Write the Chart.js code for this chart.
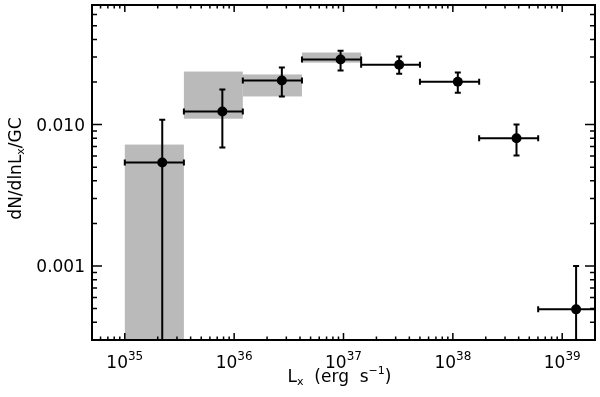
<!DOCTYPE html>
<html lang="en">
  <head>
    <meta charset="UTF-8" />
    <title>GC X-ray luminosity function</title>
    <script src="https://cdn.jsdelivr.net/npm/chart.js"></script>
    <style>
      html, body { margin: 0; padding: 0; background: #fff; }
      #wrap { width: 600px; height: 397px; }
    </style>
  </head>
  <body>
    <div id="wrap"><canvas id="chartCanvas"></canvas></div>

    <script>
      // luminosity of each bin (erg/s) and dN/dlnLx/GC
      const lx = [2.2e35, 7.8e35, 2.73e36, 9.4e36, 3.23e37, 1.11e38, 3.82e38, 1.34e39];
      const dn = [0.0054, 0.01236, 0.0205, 0.0288, 0.0265, 0.0201, 0.008, 0.000494];
      const dnHi = [0.0108, 0.0177, 0.0253, 0.0333, 0.0303, 0.0233, 0.01, 0.001];
      const dnLo = [0.0001, 0.00687, 0.0158, 0.0241, 0.0229, 0.0168, 0.00604, 0.0001];
      // bin edges
      const binLo = [1.0e35, 3.47e35, 1.2e36, 4.17e36, 1.45e37, 5.0e37, 1.74e38, 6.03e38];
      const binHi = [3.47e35, 1.2e36, 4.17e36, 1.45e37, 5.0e37, 1.74e38, 6.03e38, 2.09e39];
      // grey boxes (first four bins)
      const boxLo = [0.0001, 0.011, 0.0158, 0.0274];
      const boxHi = [0.00722, 0.0237, 0.0226, 0.0323];

      const xMajor = [1e35, 1e36, 1e37, 1e38, 1e39];
      const xTickExp = ["35", "36", "37", "38", "39"];
      const yMajor = [0.001, 0.01];
      const yTickLabels = ["0.001", "0.010"];

      const FONT = "'DejaVu Sans', sans-serif";

      function minorTicks(lo, hi, firstDecade, lastDecade) {
        const out = [];
        for (let d = firstDecade; d <= lastDecade; d++) {
          for (let k = 2; k <= 9; k++) {
            const v = k * Math.pow(10, d);
            if (v > lo && v < hi) out.push(v);
          }
        }
        return out;
      }

      const errorBoxes = {
        id: "errorBoxes",
        beforeDatasetsDraw(chart) {
          const { ctx, chartArea: a, scales: { x, y } } = chart;
          ctx.save();
          ctx.beginPath();
          ctx.rect(a.left, a.top, a.right - a.left, a.bottom - a.top);
          ctx.clip();

          ctx.fillStyle = "#bababa";
          for (let i = 0; i < boxLo.length; i++) {
            const x0 = x.getPixelForValue(binLo[i]);
            const x1 = x.getPixelForValue(binHi[i]);
            const y0 = y.getPixelForValue(boxHi[i]);
            const y1 = y.getPixelForValue(boxLo[i]);
            ctx.fillRect(x0, y0, x1 - x0, y1 - y0);
          }

          ctx.strokeStyle = "#000";
          ctx.lineWidth = 2;
          const c = 3;
          for (let i = 0; i < lx.length; i++) {
            const cx = x.getPixelForValue(lx[i]);
            const cy = y.getPixelForValue(dn[i]);
            const xl = x.getPixelForValue(binLo[i]);
            const xr = x.getPixelForValue(binHi[i]);
            const yt = y.getPixelForValue(dnHi[i]);
            const yb = y.getPixelForValue(dnLo[i]);
            ctx.beginPath();
            ctx.moveTo(xl, cy); ctx.lineTo(xr, cy);
            ctx.moveTo(xl, cy - c); ctx.lineTo(xl, cy + c);
            ctx.moveTo(xr, cy - c); ctx.lineTo(xr, cy + c);
            ctx.moveTo(cx, yt); ctx.lineTo(cx, yb);
            ctx.moveTo(cx - c, yt); ctx.lineTo(cx + c, yt);
            ctx.moveTo(cx - c, yb); ctx.lineTo(cx + c, yb);
            ctx.stroke();
          }
          ctx.restore();
        },
        afterDraw(chart) {
          const { ctx, chartArea: a, scales: { x, y } } = chart;
          ctx.save();
          ctx.strokeStyle = "#000";
          ctx.fillStyle = "#000";

          // ticks, inward on all four sides
          ctx.lineWidth = 1.5;
          ctx.beginPath();
          const xMinor = minorTicks(x.min, x.max, 34, 39);
          const yMinor = minorTicks(y.min, y.max, -4, -2);
          xMajor.concat(xMinor).forEach((v) => {
            const len = xMajor.includes(v) ? 7 : 3.5;
            const p = x.getPixelForValue(v);
            ctx.moveTo(p, a.bottom); ctx.lineTo(p, a.bottom - len);
            ctx.moveTo(p, a.top); ctx.lineTo(p, a.top + len);
          });
          yMajor.concat(yMinor).forEach((v) => {
            const len = yMajor.includes(v) ? 10 : 5;
            const p = y.getPixelForValue(v);
            ctx.moveTo(a.left, p); ctx.lineTo(a.left + len, p);
            ctx.moveTo(a.right, p); ctx.lineTo(a.right - len, p);
          });
          ctx.stroke();

          // frame
          ctx.lineWidth = 2;
          ctx.strokeRect(a.left, a.top, a.right - a.left, a.bottom - a.top);

          // x tick labels 10^n
          ctx.textBaseline = "alphabetic";
          ctx.textAlign = "left";
          xMajor.forEach((v, i) => {
            ctx.font = "17px " + FONT;
            const wb = ctx.measureText("10").width;
            ctx.font = "12px " + FONT;
            const we = ctx.measureText(xTickExp[i]).width;
            const p = x.getPixelForValue(v);
            const left = p - (wb + we) / 2;
            ctx.font = "17px " + FONT;
            ctx.fillText("10", left, a.bottom + 28);
            ctx.font = "12px " + FONT;
            ctx.fillText(xTickExp[i], left + wb, a.bottom + 20);
          });

          // y tick labels
          ctx.font = "17px " + FONT;
          ctx.textAlign = "right";
          yMajor.forEach((v, i) => {
            ctx.fillText(yTickLabels[i], a.left - 7, y.getPixelForValue(v) + 6);
          });

          // x title: L_x (erg s^-1)
          ctx.textAlign = "left";
          const parts = [
            ["L", 17, 0],
            ["x", 11, 3],
            ["  (erg  s", 17, 0],
            ["\u22121", 11, -8],
            [")", 17, 0],
          ];
          let total = 0;
          parts.forEach(([t, s]) => { ctx.font = s + "px " + FONT; total += ctx.measureText(t).width; });
          let xx = (a.left + a.right) / 2 - total / 2 - 4;
          parts.forEach(([t, s, dy]) => {
            ctx.font = s + "px " + FONT;
            ctx.fillText(t, xx, 382 + dy);
            xx += ctx.measureText(t).width;
          });

          // y title: dN/dlnL_x/GC
          const yparts = [
            ["dN/dlnL", 17, 0],
            ["x", 11, 3],
            ["/GC", 17, 0],
          ];
          ctx.save();
          ctx.translate(21, (a.top + a.bottom) / 2 - 4);
          ctx.rotate(-Math.PI / 2);
          let ytot = 0;
          yparts.forEach(([t, s]) => { ctx.font = s + "px " + FONT; ytot += ctx.measureText(t).width; });
          let yy = -ytot / 2;
          yparts.forEach(([t, s, dy]) => {
            ctx.font = s + "px " + FONT;
            ctx.fillText(t, yy, dy);
            yy += ctx.measureText(t).width;
          });
          ctx.restore();

          ctx.restore();
        },
      };

      const ctx = document.getElementById("chartCanvas").getContext("2d");
      const chart = new Chart(ctx, {
        type: "scatter",
        data: {
          datasets: [
            {
              label: "dN/dlnLx/GC",
              data: lx.map((v, i) => ({ x: v, y: dn[i] })),
              pointRadius: 5,
              pointBackgroundColor: "#000",
              pointBorderWidth: 0,
              borderColor: "#000",
            },
          ],
        },
        options: {
          responsive: true,
          maintainAspectRatio: false,
          animation: false,
          layout: { padding: { left: 92, top: 4, right: 2, bottom: 57 } },
          plugins: { legend: { display: false }, tooltip: { enabled: false } },
          scales: {
            x: { type: "logarithmic", min: 5.012e34, max: 1.995e39, display: false },
            y: { type: "logarithmic", min: 0.0003, max: 0.07, display: false },
          },
        },
        plugins: [errorBoxes],
      });
    </script>
  </body>
</html>
